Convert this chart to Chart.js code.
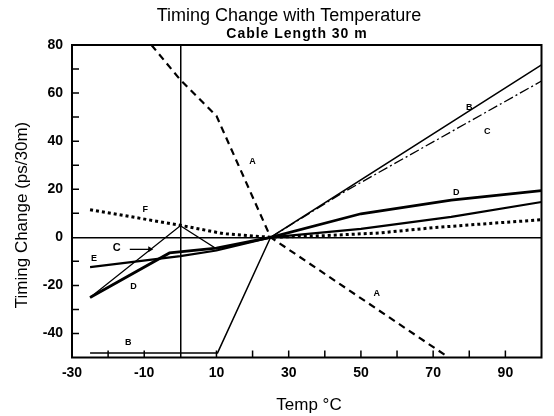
<!DOCTYPE html>
<html>
<head>
<meta charset="utf-8">
<script src="https://cdn.jsdelivr.net/npm/chart.js@4.4.1/dist/chart.umd.min.js"></script>
<style>
  body { margin: 0; background: #fff; }
  canvas { display: block; }
</style>
</head>
<body>
<canvas id="grafico" width="554" height="416"></canvas>
<script>
// curvas (temperatura em °C, variacao em ps/30m)
const tempA = [-8, 0, 6, 10, 25, 74.3];
const timingA = [80, 65.5, 56.5, 50.5, 0, -50];
const tempB = [-25, 10.3, 25, 100];
const timingB = [-48.1, -48.1, 0, 71.7];
const tempC = [-25, 0, 10, 25, 45, 100];
const timingC = [-25, 4.8, -4.8, 0, 18.6, 65];
const tempD = [-25, -3, 10, 25, 50, 75, 100];
const timingD = [-25, -6.5, -4.5, 0, 9.8, 15.5, 19.4];
const tempE = [-25, 0, 10, 25, 50, 75, 100];
const timingE = [-12.4, -7.8, -5.5, 0, 3.5, 8.5, 14.7];
const tempF = [-25, 0, 12, 25, 40, 55, 70, 85, 100];
const timingF = [11.5, 5, 1.5, 0, 0.7, 1.8, 4, 5.7, 7.3];

const xLabels = [-30, -10, 10, 30, 50, 70, 90];
const yLabels = [-40, -20, 0, 20, 40, 60, 80];

// letras das curvas: [texto, temp, timing]
const rotulos = [
  ["B", 80, 54], ["C", 85, 44], ["D", 76.4, 18.8], ["A", 20, 31.5], ["A", 54.4, -23.2],
  ["F", -9.7, 11.5], ["E", -23.9, -9], ["D", -13, -20.3], ["B", -14.4, -43.7]
];
// "C ->" da esquerda: [texto, temp, timing, inicio seta, fim seta]
const setaC = ["C", -17.6, -4.6, -14, -7.5];

const fonte = "'Liberation Sans', Arial, sans-serif";

function serie(temps, valores) {
  return temps.map((t, i) => ({ x: t, y: valores[i] }));
}

const decoracao = {
  id: "decoracao",
  afterDatasetsDraw(chart) {
    const { ctx, chartArea: a, scales: { x, y } } = chart;
    ctx.save();
    ctx.strokeStyle = "#000";
    ctx.fillStyle = "#000";

    // moldura
    ctx.lineWidth = 2;
    ctx.strokeRect(a.left, a.top, a.right - a.left, a.bottom - a.top);

    // marcas internas dos eixos
    ctx.lineWidth = 1.5;
    ctx.beginPath();
    x.ticks.forEach(t => {
      if (t.value <= x.min || t.value >= x.max || t.value === 0) return;
      const px = x.getPixelForValue(t.value);
      ctx.moveTo(px, a.bottom);
      ctx.lineTo(px, a.bottom - 7);
    });
    y.ticks.forEach(t => {
      if (t.value <= y.min || t.value >= y.max || t.value === 0) return;
      const py = y.getPixelForValue(t.value);
      ctx.moveTo(a.left, py);
      ctx.lineTo(a.left + 7, py);
    });
    ctx.stroke();

    // letras
    ctx.textAlign = "center";
    ctx.textBaseline = "middle";
    ctx.font = "bold 9px " + fonte;
    rotulos.forEach(([txt, t, v]) => {
      ctx.fillText(txt, x.getPixelForValue(t), y.getPixelForValue(v));
    });

    // C com seta
    ctx.font = "bold 11px " + fonte;
    ctx.fillText(setaC[0], x.getPixelForValue(setaC[1]), y.getPixelForValue(setaC[2]));
    const y0 = y.getPixelForValue(setaC[2]) + 1;
    const x0 = x.getPixelForValue(setaC[3]);
    const x1 = x.getPixelForValue(setaC[4]);
    ctx.lineWidth = 1.3;
    ctx.beginPath();
    ctx.moveTo(x0, y0);
    ctx.lineTo(x1 - 3, y0);
    ctx.stroke();
    ctx.beginPath();
    ctx.moveTo(x1, y0);
    ctx.lineTo(x1 - 5, y0 - 3);
    ctx.lineTo(x1 - 5, y0 + 3);
    ctx.closePath();
    ctx.fill();
    ctx.restore();
  },
  afterDraw(chart) {
    const { ctx } = chart;
    ctx.save();
    ctx.fillStyle = "#000";
    ctx.textAlign = "center";
    ctx.textBaseline = "alphabetic";
    ctx.font = "18px " + fonte;
    ctx.fillText("Timing Change with Temperature", 289, 21);
    ctx.font = "bold 14px " + fonte;
    ctx.letterSpacing = "1px";
    ctx.fillText("Cable Length 30 m", 297, 38);
    ctx.letterSpacing = "0px";
    ctx.font = "17px " + fonte;
    ctx.fillText("Temp °C", 309, 410);
    ctx.translate(22, 215);
    ctx.rotate(-Math.PI / 2);
    ctx.textBaseline = "middle";
    ctx.fillText("Timing Change (ps/30m)", 0, 0);
    ctx.restore();
  }
};

const linhaZero = c => (c.tick && c.tick.value === 0 ? "#000" : "rgba(0,0,0,0)");

new Chart(document.getElementById("grafico"), {
  type: "line",
  data: {
    datasets: [
      { label: "A", data: serie(tempA, timingA), borderColor: "#000", borderWidth: 2.2, borderDash: [7, 5] },
      { label: "B", data: serie(tempB, timingB), borderColor: "#000", borderWidth: 1.5 },
      {
        label: "C", data: serie(tempC, timingC), borderColor: "#000", borderWidth: 1.3,
        segment: { borderDash: c => (c.p0.parsed.x >= 25 ? [10, 3, 2, 3] : undefined) }
      },
      { label: "D", data: serie(tempD, timingD), borderColor: "#000", borderWidth: 2.8 },
      { label: "E", data: serie(tempE, timingE), borderColor: "#000", borderWidth: 2.2 },
      { label: "F", data: serie(tempF, timingF), borderColor: "#000", borderWidth: 3, borderDash: [3, 3] }
    ]
  },
  options: {
    responsive: false,
    animation: false,
    devicePixelRatio: 1,
    elements: { point: { radius: 0 }, line: { tension: 0, fill: false } },
    layout: { padding: { top: 45, right: 12.5, left: 0, bottom: 0 } },
    plugins: { legend: { display: false }, title: { display: false }, tooltip: { enabled: false } },
    scales: {
      x: {
        type: "linear",
        min: -30,
        max: 100,
        afterFit: s => { s.height = 58.5; },
        border: { display: false },
        grid: { color: linhaZero, lineWidth: 1.5, drawTicks: false },
        ticks: {
          stepSize: 10,
          autoSkip: false,
          maxRotation: 0,
          padding: 7,
          color: "#000",
          font: { family: fonte, size: 14, weight: "bold" },
          callback: v => (xLabels.includes(v) ? String(v) : "")
        }
      },
      y: {
        min: -50,
        max: 80,
        afterFit: s => { s.width = 72; },
        border: { display: false },
        grid: { color: linhaZero, lineWidth: 1.5, drawTicks: false },
        ticks: {
          stepSize: 10,
          autoSkip: false,
          padding: 9,
          color: "#000",
          font: { family: fonte, size: 14, weight: "bold" },
          callback: v => (yLabels.includes(v) ? String(v) : "")
        }
      }
    }
  },
  plugins: [decoracao]
});
</script>
</body>
</html>
